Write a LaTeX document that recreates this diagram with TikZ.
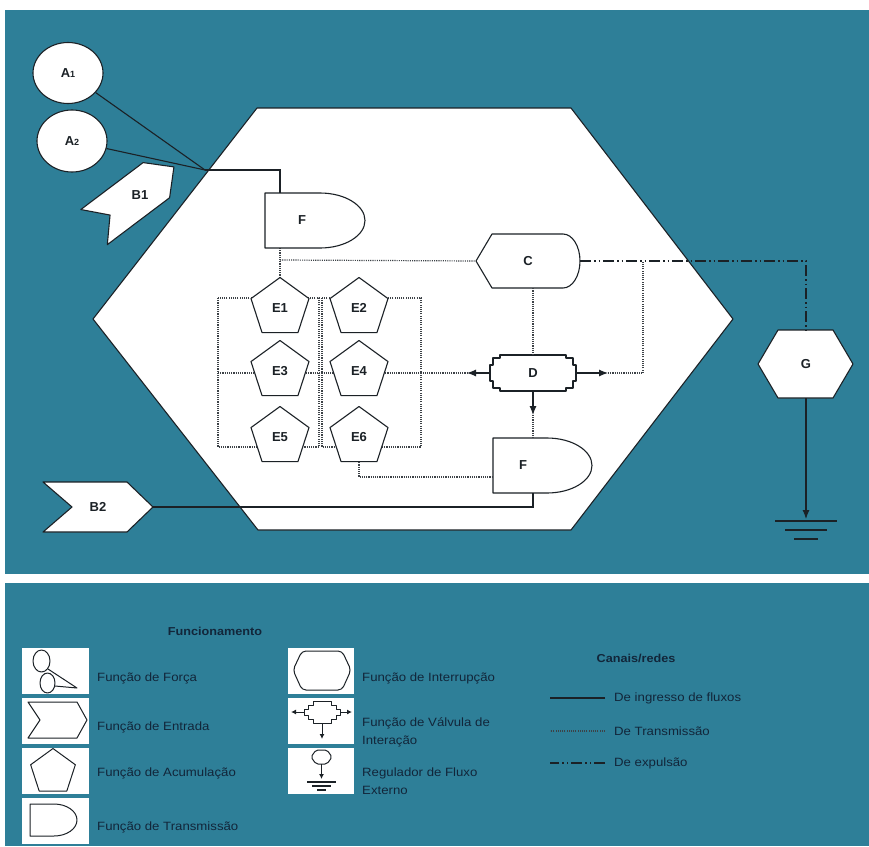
\documentclass[tikz,border=0pt]{standalone}
\usepackage{fontspec}
\setmainfont{Liberation Sans}
\newfontfamily\legendfont[FakeStretch=1.1]{Liberation Sans}
\usepackage{xcolor}
\definecolor{vizPanel}{HTML}{2E7F98}
\definecolor{vizInk}{HTML}{1B2126}
\definecolor{vizText}{HTML}{12263A}
\usetikzlibrary{shapes.geometric,arrows.meta}

\tikzset{
  outline/.style={draw=vizInk, line width=1.1pt, fill=white, line join=round},
  tag/.style={inner sep=0pt, text=vizInk, font=\bfseries\fontsize{13}{15}\selectfont},
  accum/.style={regular polygon, regular polygon sides=5, outline, minimum size=61pt, inner sep=0pt, tag},
  ingress/.style={draw=vizInk, line width=1.1pt},
  transm/.style={draw=vizInk!85, line width=1.2pt, dash pattern=on 1.1pt off 1.1pt},
  expel/.style={draw=vizInk, line width=1.2pt, dash pattern=on 11pt off 3pt on 1.5pt off 3pt on 1.5pt off 3pt},
  tipped/.style={-{Latex[length=9pt,width=7pt]}},
  smalltip/.style={-{Latex[length=5pt,width=5pt]}},
  icon/.style={draw=vizInk, line width=1pt, line join=round},
  legtext/.style={anchor=west, inner sep=0pt, text=vizText, align=left, font=\legendfont\fontsize{12}{18}\selectfont},
  leghead/.style={inner sep=0pt, text=vizText, font=\legendfont\bfseries\fontsize{11.5}{14}\selectfont},
}

\begin{document}
\begin{tikzpicture}[x=1pt, y=-1pt]
  \useasboundingbox (0,0) rectangle (869,846);
  \fill[white] (0,0) rectangle (869,846);
  \fill[vizPanel] (5,10) rectangle (869,574);
  \fill[vizPanel] (5,583) rectangle (869,846);

  \draw[outline] (257,108) -- (571,108) -- (733,319) -- (571,530) -- (258,530) -- (93,319) -- cycle;

  \node[ellipse, outline, minimum width=70pt, minimum height=61pt, inner sep=0pt, tag] (A1) at (68,73) {A{\fontsize{9}{9}\selectfont 1}};
  \node[ellipse, outline, minimum width=70pt, minimum height=62pt, inner sep=0pt, tag] (A2) at (72,141) {A{\fontsize{9}{9}\selectfont 2}};
  \draw[outline, shift={(134,197)}, rotate=37] (-50,22) -- (28,22) -- (50,0) -- (28,-22) -- (-50,-22) -- (-30,0) -- cycle;
  \node[tag] (B1) at (140,195) {B1};
  \draw[outline] (43,482) -- (127,482) -- (153,507) -- (127,532) -- (43,532) -- (72,507) -- cycle;
  \node[tag, minimum width=110pt, minimum height=50pt] (B2) at (98,507) {B2};

  \coordinate (J) at (205,170);
  \coordinate (F1in) at (280,193);
  \coordinate (F1out) at (280,248);
  \coordinate (Tap1) at (280,260);
  \coordinate (F2in) at (533,438);
  \coordinate (F2side) at (493,477);
  \coordinate (F2base) at (533,493);
  \coordinate (Dleft) at (467,373);
  \coordinate (Dright) at (608,373);
  \coordinate (Ddown) at (533,415);
  \coordinate (Tap2) at (643,373);
  \coordinate (Tap3) at (643,261);
  \coordinate (Gnd) at (806,519);

  \draw[transm] (218,298) rectangle (319,447);
  \draw[transm] (322,298) rectangle (421,447);
  \draw[transm] (218,373) -- (Dleft);
  \draw[transm] (F1out) -- (280,278);
  \draw[transm] (Tap1) -- (476,261);

  \draw[outline] (265,193) -- (320,193) arc[start angle=90, end angle=-90, x radius=45pt, y radius=27.5pt] -- (265,248) -- cycle;
  \node[tag] (F1) at (302,220) {F};
  \draw[outline] (476,261) -- (492,234) -- (563,234) arc[start angle=90, end angle=-90, x radius=17pt, y radius=27pt] -- (492,288) -- cycle;
  \node[tag, minimum width=104pt, minimum height=54pt] (C) at (528,261) {C};
  \draw[outline, shift={(533,373)}] (-33,-18) -- (33,-18) -- (33,-15) -- (40,-15) -- (40,-8) -- (43,-8) -- (43,8) -- (40,8) -- (40,15) -- (33,15) -- (33,18)
    -- (-33,18) -- (-33,15) -- (-40,15) -- (-40,8) -- (-43,8) -- (-43,-8) -- (-40,-8) -- (-40,-15) -- (-33,-15) -- cycle;
  \node[tag, minimum width=86pt, minimum height=36pt] (D) at (533,373) {D};
  \draw[outline] (493,438) -- (547,438) arc[start angle=90, end angle=-90, x radius=45pt, y radius=27.5pt] -- (493,493) -- cycle;
  \node[tag] (F2) at (523,465) {F};
  \draw[outline] (778,330) -- (833,330) -- (853,364) -- (833,398) -- (778,398) -- (758,364) -- cycle;
  \node[tag, minimum width=95pt, minimum height=68pt] (G) at (806,364) {G};

  \node[accum] (E1) at (280,308) {E1};
  \node[accum] (E2) at (359,308) {E2};
  \node[accum] (E3) at (280,371) {E3};
  \node[accum] (E4) at (359,371) {E4};
  \node[accum] (E5) at (280,437) {E5};
  \node[accum] (E6) at (359,437) {E6};

  \draw[ingress] (A1) -- (J);
  \draw[ingress] (A2) -- (J);
  \draw[ingress] (J) -| (F1in);
  \draw[ingress] (B2.east) -| (F2base);
  \draw[transm] (E6.south) |- (F2side);
  \draw[transm] (C.south -| D.north) -- (D.north);
  \draw[ingress, tipped] (D.west) -- (Dleft);
  \draw[ingress, tipped] (D.east) -- (Dright);
  \draw[ingress, tipped] (D.south) -- (Ddown);
  \draw[transm] (Ddown) -- (F2in);
  \draw[transm] (Dright) -- (Tap2) -- (Tap3);
  \draw[expel] (C.east) -| (G.north);
  \draw[ingress, tipped] (G.south) -- (Gnd);
  \draw[vizInk, line width=1.8pt] (775,521) -- (837,521);
  \draw[vizInk, line width=1.8pt] (785,530) -- (827,530);
  \draw[vizInk, line width=1.8pt] (794,539) -- (818,539);

  \node[leghead] (legHead) at (215,631) {Funcionamento};
  \fill[white] (22,648) rectangle (89,694);
  \fill[white] (22,698) rectangle (89,744);
  \fill[white] (22,748) rectangle (89,794);
  \fill[white] (22,798) rectangle (89,844);
  \fill[white] (288,648) rectangle (354,694);
  \fill[white] (288,698) rectangle (354,744);
  \fill[white] (288,748) rectangle (354,794);

  \draw[icon] (41.5,661) ellipse[x radius=8.5pt, y radius=11pt];
  \draw[icon] (47.5,683) ellipse[x radius=7.5pt, y radius=10pt];
  \draw[icon] (48,669) -- (77,688) -- (55,686);
  \draw[icon] (28,702) -- (77,702) -- (87,720) -- (77,738) -- (28,738) -- (40,720) -- cycle;
  \node[regular polygon, regular polygon sides=5, icon, minimum size=47pt, inner sep=0pt] (legPenta) at (53,772) {};
  \draw[icon] (30,804) -- (54,804) arc[start angle=90, end angle=-90, x radius=23pt, y radius=16pt] -- (30,836) -- cycle;
  \draw[icon, rounded corners=4pt] (302,651) -- (342,651) -- (351,670) -- (342,690) -- (302,690) -- (293,670) -- cycle;
  \draw[icon, shift={(322,712)}] (-9,-11) -- (9,-11) -- (9,-7) -- (14,-7) -- (14,-3) -- (18,-3) -- (18,3) -- (14,3) -- (14,7) -- (9,7) -- (9,11)
    -- (-9,11) -- (-9,7) -- (-14,7) -- (-14,3) -- (-18,3) -- (-18,-3) -- (-14,-3) -- (-14,-7) -- (-9,-7) -- cycle;
  \draw[icon, smalltip] (304,712) -- (291,712);
  \draw[icon, smalltip] (340,712) -- (352,712);
  \draw[icon, smalltip] (322,723) -- (322,739);
  \draw[icon, rounded corners=2pt] (316,750) -- (327,750) -- (332,757) -- (327,764) -- (316,764) -- (311,757) -- cycle;
  \draw[icon, smalltip] (321.5,764) -- (321.5,779);
  \draw[icon, line width=1.2pt] (307,782) -- (336,782);
  \draw[icon, line width=1.2pt] (312,786) -- (331,786);
  \draw[icon, line width=1.2pt] (317,790) -- (326,790);

  \node[legtext] (legForce) at (97,678) {Função de Força};
  \node[legtext] (legEntry) at (97,727) {Função de Entrada};
  \node[legtext] (legAccum) at (97,773) {Função de Acumulação};
  \node[legtext] (legTrans) at (97,827) {Função de Transmissão};
  \node[legtext] (legBreak) at (362,678) {Função de Interrupção};
  \node[legtext] (legValve) at (362,732) {Função de Válvula de\\Interação};
  \node[legtext] (legReg) at (362,781) {Regulador de Fluxo\\Externo};

  \node[leghead] (legChan) at (636,658) {Canais/redes};
  \node[legtext] (legIn) at (614,698) {De ingresso de fluxos};
  \node[legtext] (legTr) at (614,731) {De Transmissão};
  \node[legtext] (legEx) at (614,763) {De expulsão};
  \draw[ingress] ([xshift=-9pt]legIn.west) -- ++(-55,0);
  \draw[transm] ([xshift=-9pt]legTr.west) -- ++(-55,0);
  \draw[expel] ([xshift=-9pt]legEx.west) -- ++(-55,0);
\end{tikzpicture}
\end{document}
